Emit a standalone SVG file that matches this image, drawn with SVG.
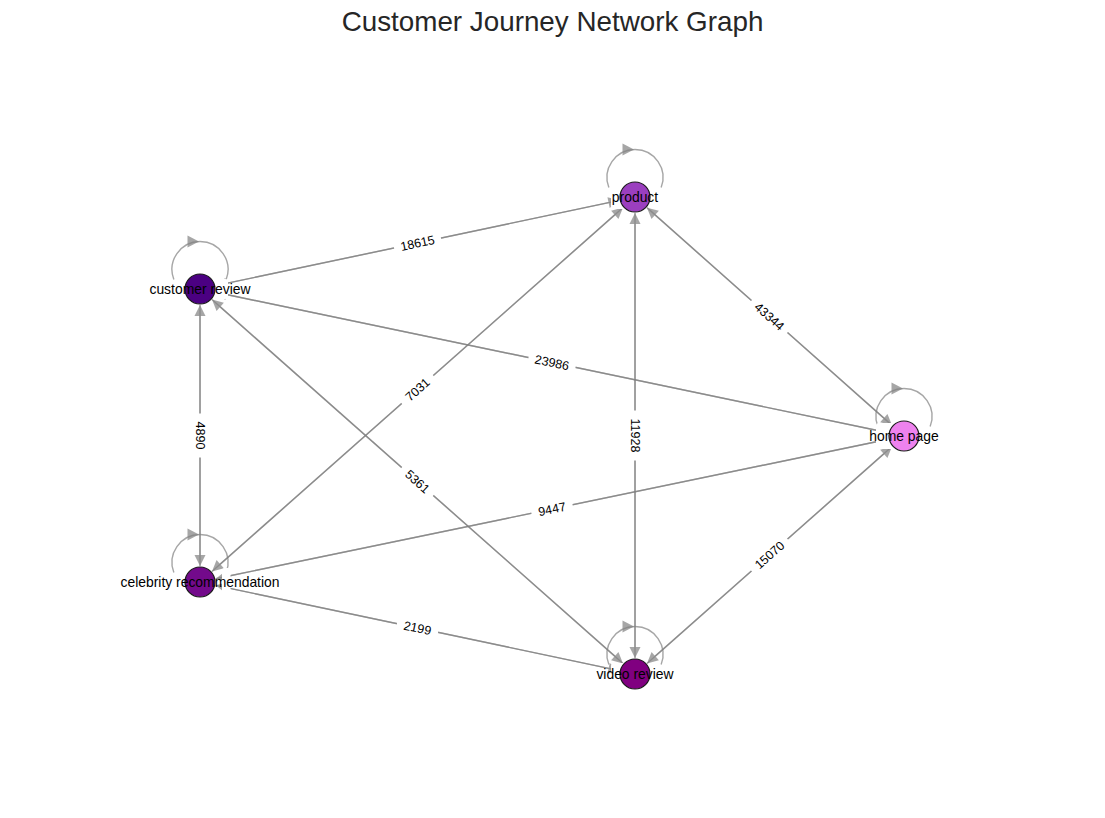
<svg xmlns="http://www.w3.org/2000/svg" width="1105" height="818" viewBox="0 0 1105 818">
<style>
text{font-family:"Liberation Sans",Arial,sans-serif}
.title{font-size:27.8px;fill:#262626;text-anchor:middle}
.e{stroke:#808080;stroke-opacity:0.7;stroke-width:1.4;fill:none}
.h{fill:#808080;fill-opacity:0.7;stroke:none}
.strip{fill:#ffffff;stroke:none}
.node{stroke:#1a1a1a;stroke-width:1.2}
.nl{font-size:13.9px;fill:#000;text-anchor:middle}
.lb{fill:#fff;stroke:none}
.el{font-size:12.5px;fill:#000;text-anchor:middle}
</style>
<rect width="1105" height="818" fill="#fff"/>
<text class="title" x="552.5" y="30.5">Customer Journey Network Graph</text>

<g id="connectors">
  <!-- customer review <-> product -->
  <line class="e" x1="215.65" y1="285.69" x2="608.59" y2="202.59"/>
  <polygon class="h" points="619.35,200.31 609.73,207.97 607.45,197.21"/>
  <line class="e" x1="619.35" y1="200.31" x2="226.41" y2="283.41"/>
  <polygon class="h" points="215.65,285.69 227.55,288.79 225.27,278.03"/>
  <!-- customer review <-> home page -->
  <line class="e" x1="215.66" y1="292.27" x2="877.57" y2="430.48"/>
  <polygon class="h" points="888.34,432.73 876.45,435.86 878.69,425.10"/>
  <line class="e" x1="888.34" y1="432.73" x2="226.43" y2="294.52"/>
  <polygon class="h" points="215.66,292.27 225.31,299.90 227.55,289.14"/>
  <!-- product <-> home page -->
  <line class="e" x1="646.96" y1="207.63" x2="883.82" y2="418.06"/>
  <polygon class="h" points="892.04,425.37 880.17,422.17 887.47,413.95"/>
  <line class="e" x1="892.04" y1="425.37" x2="655.18" y2="214.94"/>
  <polygon class="h" points="646.96,207.63 651.53,219.05 658.83,210.83"/>
  <!-- customer review <-> celebrity recommendation -->
  <line class="e" x1="200" y1="305" x2="200" y2="555"/>
  <polygon class="h" points="200,566 194.5,555 205.5,555"/>
  <line class="e" x1="200" y1="566" x2="200" y2="316"/>
  <polygon class="h" points="200,305 194.5,316 205.5,316"/>
  <!-- celebrity recommendation <-> product -->
  <line class="e" x1="211.98" y1="571.40" x2="614.78" y2="214.89"/>
  <polygon class="h" points="623.02,207.60 618.43,219.01 611.13,210.77"/>
  <line class="e" x1="623.02" y1="207.60" x2="220.22" y2="564.11"/>
  <polygon class="h" points="211.98,571.40 223.87,568.23 216.57,559.99"/>
  <!-- product <-> video review -->
  <line class="e" x1="635" y1="213" x2="635" y2="647"/>
  <polygon class="h" points="635,658 629.5,647 640.5,647"/>
  <line class="e" x1="635" y1="658" x2="635" y2="224"/>
  <polygon class="h" points="635,213 629.5,224 640.5,224"/>
  <!-- customer review <-> video review -->
  <line class="e" x1="211.98" y1="299.60" x2="614.78" y2="656.11"/>
  <polygon class="h" points="623.02,663.40 611.13,660.23 618.43,651.99"/>
  <line class="e" x1="623.02" y1="663.40" x2="220.22" y2="306.89"/>
  <polygon class="h" points="211.98,299.60 216.57,311.01 223.87,302.77"/>
  <!-- celebrity recommendation <-> home page -->
  <line class="e" x1="215.67" y1="578.75" x2="877.56" y2="441.48"/>
  <polygon class="h" points="888.33,439.25 878.68,446.87 876.44,436.09"/>
  <line class="e" x1="888.33" y1="439.25" x2="226.44" y2="576.52"/>
  <polygon class="h" points="215.67,578.75 227.56,581.91 225.32,571.13"/>
  <!-- video review <-> home page -->
  <line class="e" x1="646.98" y1="663.40" x2="883.78" y2="453.89"/>
  <polygon class="h" points="892.02,446.60 887.42,458.01 880.14,449.77"/>
  <line class="e" x1="892.02" y1="446.60" x2="655.22" y2="656.11"/>
  <polygon class="h" points="646.98,663.40 658.86,660.23 651.58,651.99"/>
  <!-- celebrity recommendation <-> video review -->
  <line class="e" x1="215.65" y1="585.31" x2="608.59" y2="668.41"/>
  <polygon class="h" points="619.35,670.69 607.45,673.79 609.73,663.03"/>
  <line class="e" x1="619.35" y1="670.69" x2="226.41" y2="587.59"/>
  <polygon class="h" points="215.65,585.31 225.27,592.97 227.55,582.21"/>

  <!-- self loops -->
  <path class="e" d="M608.86,187.53 A28,28 0 1 1 661.14,187.53"/>
  <polygon class="h" points="634,149.5 622.5,143.5 622.5,155.5"/>
  <path class="e" d="M173.86,279.53 A28,28 0 1 1 226.14,279.53"/>
  <polygon class="h" points="199,241.5 187.5,235.5 187.5,247.5"/>
  <path class="e" d="M877.86,426.53 A28,28 0 1 1 930.14,426.53"/>
  <polygon class="h" points="903,388.5 891.5,382.5 891.5,394.5"/>
  <path class="e" d="M173.86,572.53 A28,28 0 1 1 226.14,572.53"/>
  <polygon class="h" points="199,534.5 187.5,528.5 187.5,540.5"/>
  <path class="e" d="M608.86,664.53 A28,28 0 1 1 661.14,664.53"/>
  <polygon class="h" points="634,626.5 622.5,620.5 622.5,632.5"/>

  <!-- white patches beside nodes -->
  <rect class="strip" x="611" y="192" width="26" height="17" rx="3"/>
  <rect class="strip" x="214" y="279" width="14" height="20" rx="3"/>
  <rect class="strip" x="876" y="423" width="28" height="26" rx="3"/>
  <rect class="strip" x="222" y="568" width="8.5" height="26" rx="3"/>
  <rect class="strip" x="611" y="663" width="26" height="13" rx="3"/>
</g>

<g id="node-product">
  <circle class="node" cx="635" cy="197" r="15" fill="#9b3fbf"/>
  <text class="nl" x="635" y="202">product</text>
</g>
<g id="node-customer-review">
  <circle class="node" cx="200" cy="289" r="15" fill="#4b0082"/>
  <text class="nl" x="200" y="294">customer review</text>
</g>
<g id="node-home-page">
  <circle class="node" cx="904" cy="436" r="15" fill="#ee82ee"/>
  <text class="nl" x="904" y="441">home page</text>
</g>
<g id="node-celebrity-recommendation">
  <circle class="node" cx="200" cy="582" r="15" fill="#730a8b"/>
  <text class="nl" x="200" y="587">celebrity recommendation</text>
</g>
<g id="node-video-review">
  <circle class="node" cx="635" cy="674" r="15" fill="#800080"/>
  <text class="nl" x="635" y="679">video review</text>
</g>

<g id="edge-labels">
  <g transform="translate(417.5,243) rotate(-11.94)"><rect class="lb" x="-24" y="-8" width="48" height="16" rx="4"/><text class="el" y="4.4">18615</text></g>
  <g transform="translate(552,362.5) rotate(11.79)"><rect class="lb" x="-24" y="-8" width="48" height="16" rx="4"/><text class="el" y="4.4">23986</text></g>
  <g transform="translate(769.5,316.5) rotate(41.62)"><rect class="lb" x="-24" y="-8" width="48" height="16" rx="4"/><text class="el" y="4.4">43344</text></g>
  <g transform="translate(200,435.5) rotate(90)"><rect class="lb" x="-22" y="-8" width="44" height="16" rx="4"/><text class="el" y="4.4">4890</text></g>
  <g transform="translate(417.5,389.5) rotate(-41.51)"><rect class="lb" x="-21" y="-8" width="42" height="16" rx="4"/><text class="el" y="4.4">7031</text></g>
  <g transform="translate(635,435.5) rotate(90)"><rect class="lb" x="-25" y="-8" width="50" height="16" rx="4"/><text class="el" y="4.4">11928</text></g>
  <g transform="translate(417.5,481.5) rotate(41.51)"><rect class="lb" x="-21" y="-8" width="42" height="16" rx="4"/><text class="el" y="4.4">5361</text></g>
  <g transform="translate(552,509) rotate(-11.72)"><rect class="lb" x="-21" y="-8" width="42" height="16" rx="4"/><text class="el" y="4.4">9447</text></g>
  <g transform="translate(769.5,555) rotate(-41.5)"><rect class="lb" x="-24" y="-8" width="48" height="16" rx="4"/><text class="el" y="4.4">15070</text></g>
  <g transform="translate(417.5,628) rotate(11.94)"><rect class="lb" x="-21" y="-8" width="42" height="16" rx="4"/><text class="el" y="4.4">2199</text></g>
</g>
</svg>
